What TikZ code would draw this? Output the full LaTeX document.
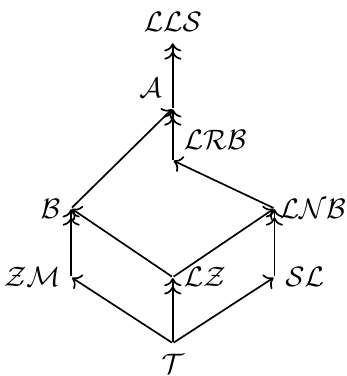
\documentclass[tikz,border=0pt]{standalone}
\usepackage{amsmath}
\usepackage{amssymb}
\usepackage{tikz}
\usetikzlibrary{positioning, arrows.meta, calc}

\begin{document}
\begin{tikzpicture}[node distance={0.86cm and 1.27cm},on grid,auto,semithick,
    pt/.style={inner sep=0pt,minimum size=0pt}]
        \useasboundingbox (-2.16,-0.41) rectangle (2.175,4.29);
        \node[pt,label=below:$\mathcal{T}$] (t) {};
        \node[pt,label=right:$\mathcal{LZ}$] (lz) [above=0.825cm of t] {};
        \node[pt,label=left:$\mathcal{ZM}$] (zm) [left=of lz] {};
        \node[pt,label=right:$\mathcal{SL}$] (sl) [right=of lz] {};
        \node[pt,label=left:$\mathcal{B}$] (b) [above=of zm] {};
        \node[pt,label={[label distance=-2pt]right:$\mathcal{LNB}$}] (lnb) [above=of sl] {};
        \node[pt,label=above right:$\mathcal{LRB}$] (lrb) [above=1.46cm of lz] {};
        \node[pt,label=above left:$\mathcal{A}$] (a) [above=0.65cm of lrb] {};
        \node[pt,label=above:$\mathcal{LLS}$] (lls) [above=0.825cm of a] {};
         \path[->]
         (t) edge (zm)
         (t) edge[->>] (lz)
         (t) edge (sl)
         (zm) edge[->>] (b)
         (lz) edge (b)
         (lz) edge (lnb)
         (sl) edge[->>] (lnb)
         (b) edge (a)
         (lnb) edge (lrb)
         (lrb) edge[->>] (a)
         (a) edge[->>] (lls);
     \end{tikzpicture}
\end{document}
